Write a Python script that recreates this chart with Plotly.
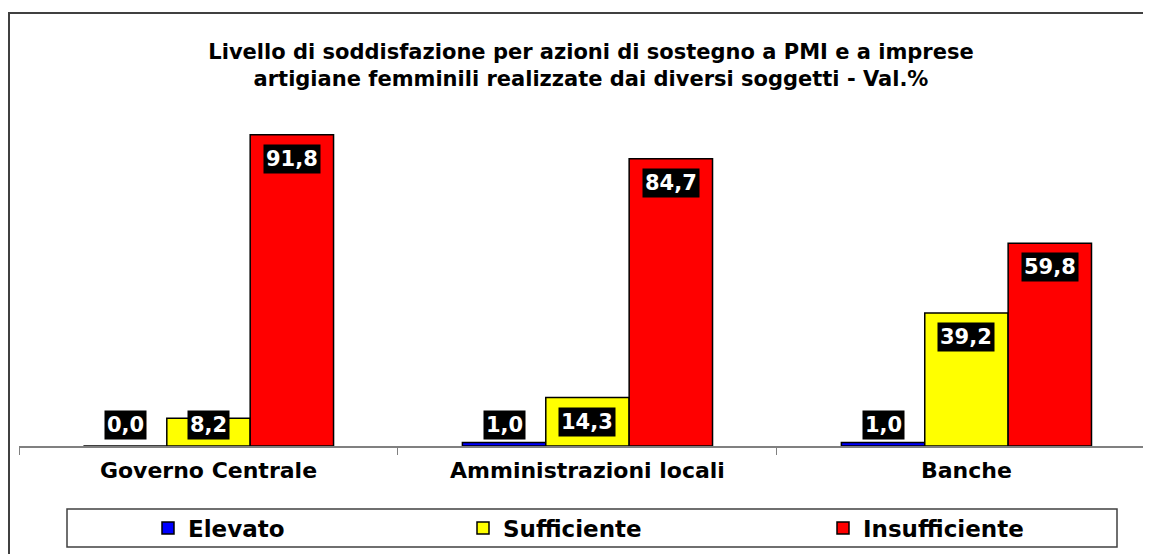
import plotly.graph_objects as go

# Data
categories = ["Governo Centrale", "Amministrazioni locali", "Banche"]
series_names = ["Elevato", "Sufficiente", "Insufficiente"]
elevato = [0.0, 1.0, 1.0]
sufficiente = [8.2, 14.3, 39.2]
insufficiente = [91.8, 84.7, 59.8]
colors = ["#0000FF", "#FFFF00", "#FF0000"]

series_values = [elevato, sufficiente, insufficiente]

# the page body adds an 8px margin, so the figure is drawn 8px smaller
W, H = 1143, 546
ML, MR, MT, MB = 11, 0, 99, 108
bargap = 0.34
bar_w = (1 - bargap) / 3
pw = W - ML - MR
ph = H - MT - MB
legend_names = ["legend", "legend2", "legend3"]
legend_x = [140, 455, 815]

fig = go.Figure()
for name, vals, col, lg in zip(series_names, series_values, colors, legend_names):
    fig.add_trace(go.Bar(x=categories, y=vals, name=name, legend=lg,
                         marker=dict(color=col, line=dict(color="black", width=1.5))))

# data labels: black boxes with white text, clamped near the base for small bars
for j, vals in enumerate(series_values):
    for i, v in enumerate(vals):
        fig.add_annotation(x=i + (j - 1) * bar_w, y=max(v, 13.3), xref="x", yref="y",
                           text=f"{v:.1f}".replace(".", ","), showarrow=False,
                           yanchor="top", yshift=-9, bgcolor="black", borderpad=2,
                           font=dict(family="DejaVu Sans", size=21, color="white",
                                     weight="bold"))

# outer chart frame (right and bottom edges fall outside the picture)
fig.add_shape(type="rect", xref="paper", yref="paper",
              x0=(1 - ML) / pw, x1=(W + 40 - ML) / pw,
              y0=(H - MB - (H + 40)) / ph, y1=(H - MB - 5) / ph,
              line=dict(color="#404040", width=2), fillcolor="rgba(0,0,0,0)", layer="below")
# legend frame
fig.add_shape(type="rect", xref="paper", yref="paper",
              x0=(59 - ML) / pw, x1=(1109 - ML) / pw,
              y0=(H - MB - 539) / ph, y1=(H - MB - 501) / ph,
              line=dict(color="#404040", width=1.5), fillcolor="rgba(0,0,0,0)", layer="below")

legend_style = dict(orientation="h", xref="container", yref="container",
                    xanchor="left", y=1 - 520 / H, yanchor="middle",
                    borderwidth=0, bgcolor="rgba(0,0,0,0)",
                    font=dict(family="DejaVu Sans", size=23, color="black", weight="bold"))

fig.update_layout(
    width=W, height=H,
    margin=dict(l=ML, r=MR, t=MT, b=MB, autoexpand=False),
    paper_bgcolor="white", plot_bgcolor="white",
    barmode="group", bargap=bargap, bargroupgap=0,
    title=dict(text="Livello di soddisfazione per azioni di sostegno a PMI e a imprese<br>"
                    "artigiane femminili realizzate dai diversi soggetti - Val.%",
               x=583 / W, xanchor="center", y=1 - 51 / H, yanchor="middle",
               yref="container",
               font=dict(family="DejaVu Sans", size=21, color="black", weight="bold")),
    xaxis=dict(range=[-0.5, 2.487], showline=True, linecolor="#808080", linewidth=1.5,
               ticks="outside", tickson="boundaries", ticklen=7, tickcolor="#808080",
               ticklabelstandoff=4,
               tickfont=dict(family="DejaVu Sans", size=22, color="black", weight="bold"),
               showgrid=False, automargin=False),
    yaxis=dict(range=[0, 100], visible=False, showgrid=False),
    showlegend=True,
)
for lg, lx in zip(legend_names, legend_x):
    fig.update_layout({lg: dict(legend_style, x=lx / W)})

fig.write_html("out.html")
